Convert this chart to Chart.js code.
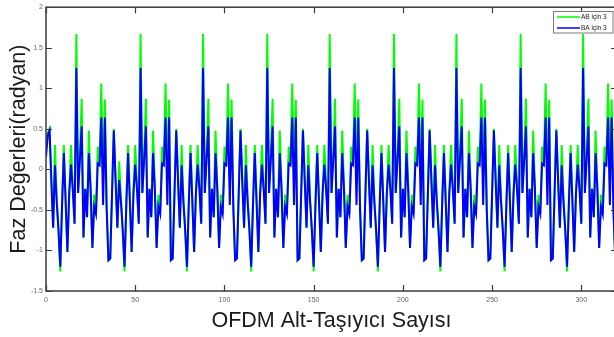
<!DOCTYPE html>
<html>
<head>
<meta charset="utf-8">
<script src="https://cdn.jsdelivr.net/npm/chart.js@4.4.0/dist/chart.umd.min.js"></script>
<style>
html,body{margin:0;padding:0;background:#fff;overflow:hidden;width:614px;height:337px}
#wrap{position:relative;width:622px;height:337px}
</style>
</head>
<body>
<div id="wrap"><canvas id="c"></canvas></div>
<script>
// Series values (x = subcarrier index 0..319)
const abIcin3 = [
 0.30,0.45,0.50,-0.10,-0.72,0.30,-0.35,-0.75,-1.26,-0.40,0.30,-0.35,-1.02,-0.30,0.30,-0.20,-0.67,1.67,-0.29,0.20,0.87,-0.84,-0.24,-0.59,0.48,-0.20,-0.97,-0.31,-0.55,0.28,0.05,1.06,-0.13,0.86,-0.45,-1.12,
 -1.10,-0.30,0.50,-0.10,-0.72,0.10,-0.35,-0.75,-1.26,-0.40,0.30,-0.35,-1.02,-0.30,0.30,-0.20,-0.67,1.67,-0.29,0.20,0.87,-0.84,-0.24,-0.59,0.48,-0.20,-0.97,-0.31,-0.55,0.28,0.05,1.06,-0.13,0.86,-1.12,
 -1.10,-0.30,0.50,-0.10,-0.72,0.30,-0.35,-0.75,-1.26,-0.40,0.30,-0.35,-1.02,-0.30,0.30,-0.20,-0.67,1.67,-0.29,0.20,0.87,-0.84,-0.24,-0.59,0.48,-0.20,-0.97,-0.31,-0.55,0.28,0.05,1.06,-0.13,0.86,-0.45,-1.12,
 -1.10,-0.30,0.50,-0.10,-0.72,0.30,-0.35,-0.75,-1.26,-0.40,0.30,-0.35,-1.02,-0.30,0.30,-0.20,-0.67,1.67,-0.29,0.20,0.87,-0.84,-0.24,-0.59,0.48,-0.20,-0.97,-0.31,-0.55,0.28,0.05,1.06,-0.13,0.86,-1.12,
 -1.10,-0.30,0.50,-0.10,-0.72,0.30,-0.35,-0.75,-1.26,-0.40,0.30,-0.35,-1.02,-0.30,0.30,-0.20,-0.67,1.67,-0.29,0.20,0.87,-0.84,-0.24,-0.59,0.48,-0.20,-0.97,-0.31,-0.55,0.28,0.05,1.06,-0.13,0.86,-0.45,-1.12,
 -1.10,-0.30,0.50,-0.10,-0.72,0.30,-0.35,-0.75,-1.26,-0.40,0.30,-0.35,-1.02,-0.30,0.30,-0.20,-0.67,1.67,-0.29,0.20,0.87,-0.84,-0.24,-0.59,0.48,-0.20,-0.97,-0.31,-0.55,0.28,0.05,1.06,-0.13,0.86,-1.12,
 -1.10,-0.30,0.50,-0.10,-0.72,0.30,-0.35,-0.75,-1.26,-0.40,0.30,-0.35,-1.02,-0.30,0.30,-0.20,-0.67,1.67,-0.29,0.20,0.87,-0.84,-0.24,-0.59,0.48,-0.20,-0.97,-0.31,-0.55,0.28,0.05,1.06,-0.13,0.86,-0.45,-1.12,
 -1.10,-0.30,0.50,-0.10,-0.72,0.30,-0.35,-0.75,-1.26,-0.40,0.30,-0.35,-1.02,-0.30,0.30,-0.20,-0.67,1.67,-0.29,0.20,0.87,-0.84,-0.24,-0.59,0.48,-0.20,-0.97,-0.31,-0.55,0.28,0.05,1.06,-0.13,0.86,-1.12,
 -1.10,-0.30,0.50,-0.10,-0.72,0.30,-0.35,-0.75,-1.26,-0.40,0.30,-0.35,-1.02,-0.30,0.30,-0.20,-0.67,1.67,-0.29,0.20,0.87,-0.84,-0.24,-0.59,0.48,-0.20,-0.97,-0.31,-0.55,0.28,0.05,1.06,-0.13,0.86,-0.45,-1.12
];
const baIcin3 = [
 0.15,0.42,0.48,-0.15,-0.72,0.05,-0.40,-0.75,-1.20,-0.45,0.20,-0.40,-1.02,-0.30,0.06,-0.25,-0.67,1.25,-0.29,0.12,0.53,-0.84,-0.24,-0.59,0.20,-0.25,-0.97,-0.46,-0.55,0.07,0.05,0.64,-0.44,0.64,-0.50,-1.12,
 -1.10,-0.30,0.48,-0.15,-0.72,-0.13,-0.40,-0.75,-1.20,-0.45,0.20,-0.40,-1.02,-0.30,0.06,-0.25,-0.67,1.25,-0.29,0.12,0.53,-0.84,-0.24,-0.59,0.20,-0.25,-0.97,-0.46,-0.55,0.07,0.05,0.64,-0.44,0.64,-1.12,
 -1.10,-0.30,0.48,-0.15,-0.72,0.05,-0.40,-0.75,-1.20,-0.45,0.20,-0.40,-1.02,-0.30,0.06,-0.25,-0.67,1.25,-0.29,0.12,0.53,-0.84,-0.24,-0.59,0.20,-0.25,-0.97,-0.46,-0.55,0.07,0.05,0.64,-0.44,0.64,-0.50,-1.12,
 -1.10,-0.30,0.48,-0.15,-0.72,0.05,-0.40,-0.75,-1.20,-0.45,0.20,-0.40,-1.02,-0.30,0.06,-0.25,-0.67,1.25,-0.29,0.12,0.53,-0.84,-0.24,-0.59,0.20,-0.25,-0.97,-0.46,-0.55,0.07,0.05,0.64,-0.44,0.64,-1.12,
 -1.10,-0.30,0.48,-0.15,-0.72,0.05,-0.40,-0.75,-1.20,-0.45,0.20,-0.40,-1.02,-0.30,0.06,-0.25,-0.67,1.25,-0.29,0.12,0.53,-0.84,-0.24,-0.59,0.20,-0.25,-0.97,-0.46,-0.55,0.07,0.05,0.64,-0.44,0.64,-0.50,-1.12,
 -1.10,-0.30,0.48,-0.15,-0.72,0.05,-0.40,-0.75,-1.20,-0.45,0.20,-0.40,-1.02,-0.30,0.06,-0.25,-0.67,1.25,-0.29,0.12,0.53,-0.84,-0.24,-0.59,0.20,-0.25,-0.97,-0.46,-0.55,0.07,0.05,0.64,-0.44,0.64,-1.12,
 -1.10,-0.30,0.48,-0.15,-0.72,0.05,-0.40,-0.75,-1.20,-0.45,0.20,-0.40,-1.02,-0.30,0.06,-0.25,-0.67,1.25,-0.29,0.12,0.53,-0.84,-0.24,-0.59,0.20,-0.25,-0.97,-0.46,-0.55,0.07,0.05,0.64,-0.44,0.64,-0.50,-1.12,
 -1.10,-0.30,0.48,-0.15,-0.72,0.05,-0.40,-0.75,-1.20,-0.45,0.20,-0.40,-1.02,-0.30,0.06,-0.25,-0.67,1.25,-0.29,0.12,0.53,-0.84,-0.24,-0.59,0.20,-0.25,-0.97,-0.46,-0.55,0.07,0.05,0.64,-0.44,0.64,-1.12,
 -1.10,-0.30,0.48,-0.15,-0.72,0.05,-0.40,-0.75,-1.20,-0.45,0.20,-0.40,-1.02,-0.30,0.06,-0.25,-0.67,1.25,-0.29,0.12,0.53,-0.84,-0.24,-0.59,0.20,-0.25,-0.97,-0.46,-0.55,0.07,0.05,0.64,-0.44,0.64,-0.50,-1.12
];
const xTicks = [0, 50, 100, 150, 200, 250, 300];
const yTicks = [-1.5, -1, -0.5, 0, 0.5, 1, 1.5, 2];
const seriesNames = ['AB için 3', 'BA için 3'];
const seriesColors = ['#00ff00', '#0000ff'];

const FONT = '"Liberation Sans", Arial, Helvetica, sans-serif';
const toPts = arr => arr.map((v, i) => ({x: i, y: v}));

const framePlugin = {
  id: 'frame',
  afterDatasetsDraw(chart) {
    const {ctx, chartArea: a, scales: {x, y}} = chart;
    ctx.save();
    ctx.strokeStyle = '#3a3a3a';
    ctx.lineWidth = 1.5;
    ctx.strokeRect(a.left, a.top, a.right - a.left, a.bottom - a.top);
    ctx.lineWidth = 1.2;
    ctx.beginPath();
    x.ticks.forEach(t => {
      const px = Math.round(x.getPixelForValue(t.value)) + 0.5;
      ctx.moveTo(px, a.bottom); ctx.lineTo(px, a.bottom - 6);
      ctx.moveTo(px, a.top); ctx.lineTo(px, a.top + 6);
    });
    y.ticks.forEach(t => {
      const py = Math.round(y.getPixelForValue(t.value)) + 0.5;
      ctx.moveTo(a.left, py); ctx.lineTo(a.left + 6, py);
      ctx.moveTo(a.right, py); ctx.lineTo(a.right - 6, py);
    });
    ctx.stroke();
    // legend box
    const bx = 553.5, by = 11.5, bw = 59.5, bh = 21.5;
    ctx.fillStyle = '#ffffff';
    ctx.fillRect(bx, by, bw, bh);
    ctx.strokeStyle = '#7a7a7a';
    ctx.lineWidth = 1;
    ctx.strokeRect(bx, by, bw, bh);
    ctx.font = '6.5px ' + FONT;
    ctx.textBaseline = 'middle';
    ctx.textAlign = 'left';
    const rows = [17, 28];
    seriesNames.forEach((name, i) => {
      ctx.strokeStyle = seriesColors[i];
      ctx.lineWidth = 1.5;
      ctx.beginPath();
      ctx.moveTo(557, rows[i]); ctx.lineTo(580, rows[i]);
      ctx.stroke();
      ctx.fillStyle = '#222';
      ctx.fillText(name, 581, rows[i]);
    });
    ctx.restore();
  }
};

new Chart(document.getElementById('c'), {
  type: 'line',
  data: {
    datasets: [
      {label: seriesNames[0], data: toPts(abIcin3), borderColor: seriesColors[0], borderWidth: 2, pointRadius: 0, tension: 0, order: 2},
      {label: seriesNames[1], data: toPts(baIcin3), borderColor: seriesColors[1], borderWidth: 2, pointRadius: 0, tension: 0, order: 1}
    ]
  },
  options: {
    responsive: true,
    maintainAspectRatio: false,
    devicePixelRatio: 1,
    animation: false,
    layout: {padding: {left: 0, right: 5, top: 6, bottom: 0}},
    plugins: {legend: {display: false}, tooltip: {enabled: false}},
    scales: {
      x: {
        type: 'linear', min: 0, max: 320,
        afterBuildTicks: s => { s.ticks = xTicks.map(v => ({value: v})); },
        afterFit: s => { s.height = 46; },
        grid: {display: false, drawTicks: false},
        border: {display: false},
        ticks: {font: {size: 7, family: FONT}, color: '#666', padding: 5, maxRotation: 0, callback: v => String(v)},
        title: {display: true, text: 'OFDM Alt-Taşıyıcı Sayısı', font: {size: 21.5, family: FONT}, color: '#1a1a1a', padding: {top: 0, bottom: 3}}
      },
      y: {
        type: 'linear', min: -1.5, max: 2,
        afterBuildTicks: s => { s.ticks = yTicks.map(v => ({value: v})); },
        afterFit: s => { s.width = 46; },
        grid: {display: false, drawTicks: false},
        border: {display: false},
        ticks: {font: {size: 7, family: FONT}, color: '#666', padding: 3, callback: v => String(v)},
        title: {display: true, text: 'Faz Değerleri(radyan)', font: {size: 21.5, family: FONT}, color: '#1a1a1a', padding: {top: 6, bottom: 0}}
      }
    }
  },
  plugins: [framePlugin]
});
</script>
</body>
</html>
